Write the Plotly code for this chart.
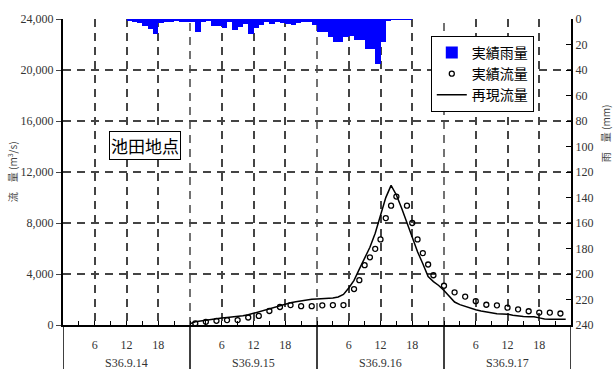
import plotly.graph_objects as go

# ---- data (hours counted from S36.9.14 0:00) ----
dates = ["S36.9.14", "S36.9.15", "S36.9.16", "S36.9.17"]
hour_ticks = ["6", "12", "18"]

rain_start_hours = list(range(12, 66))
rain_mm = [1.5, 2, 3.3, 5.4, 8, 11.8, 3.3, 2, 2, 1.3, 2.5, 2.5, 2.5, 10.3, 2, 1,
           5.4, 5.4, 7.2, 2, 9, 5.9, 4.1, 11.8, 7.2, 4.6, 2.5, 3.7, 2.5, 3.2,
           3.9, 4.4, 3.1, 2, 2, 4.5, 10.3, 10, 14.4, 18, 18, 14.4, 13.6, 16.7,
           16.7, 23.4, 23.4, 35.5, 18.3, 1.5, 0.3, 0.3, 0.3, 0.3]

obs_hours = [25, 27, 29, 31, 33, 35, 37, 39, 41, 43, 45, 47, 49, 51, 53,
             55, 56, 57, 58, 59, 60, 61, 62, 63, 65, 66, 67, 68, 69, 70,
             72, 74, 76, 78, 80, 82, 84, 86, 88, 90, 92, 94]
obs_flow = [130, 250, 330, 385, 385, 590, 715, 1100, 1410, 1560, 1480, 1480,
            1540, 1560, 1560, 2820, 3515, 4690, 5310, 5975, 6715, 8385, 9360,
            10075, 9360, 8000, 6715, 5640, 4745, 3900, 3080, 2560, 2230, 1870,
            1590, 1540, 1360, 1230, 1080, 975, 975, 900]

sim_hours = list(range(24, 96))
sim_flow = [100, 255, 320, 390, 440, 495, 540, 580, 620, 670, 720, 800, 920,
            1050, 1180, 1310, 1440, 1560, 1660, 1740, 1830, 1910, 1980, 2010,
            2040, 2055, 2080, 2110, 2200, 2400, 2900, 3500, 4380, 5180, 6100,
            7200, 8650, 9990, 10950, 10200, 9150, 8000, 6850, 5750, 4800, 3800,
            3400, 3100, 2700, 2250, 1800, 1600, 1450, 1320, 1200, 1100, 1020,
            950, 890, 870, 850, 760, 690, 670, 655, 640, 560, 470, 460, 460,
            460, 460]

SERIF = "Liberation Serif, DejaVu Serif, serif"
CJK = "Noto Sans CJK JP, sans-serif"
GRID = "#444444"
DASH = "8px,6px"

fig = go.Figure()
fig.add_trace(go.Bar(
    x=rain_start_hours, y=rain_mm, width=1, offset=0, yaxis="y2",
    marker=dict(color="#0000FF", line=dict(width=0)), name="実績雨量"))
fig.add_trace(go.Scatter(
    x=obs_hours, y=obs_flow, mode="markers", name="実績流量",
    marker=dict(symbol="circle-open", size=5, color="black",
                line=dict(width=1.3, color="black"))))
fig.add_trace(go.Scatter(
    x=sim_hours, y=sim_flow, mode="lines", name="再現流量",
    line=dict(color="black", width=1.5)))

n_days = len(dates)
label_hours = [24 * d + int(t) for d in range(n_days) for t in hour_ticks]
label_text = [t for d in range(n_days) for t in hour_ticks]

fig.update_layout(
    width=613, height=369,
    margin=dict(l=63, r=42, t=14, b=44),
    paper_bgcolor="white", plot_bgcolor="white",
    showlegend=True,
    legend=dict(x=0.724, y=0.945, xanchor="left", yanchor="top",
                bordercolor="black", borderwidth=1, bgcolor="white",
                font=dict(family=CJK, size=14, color="black"),
                traceorder="normal", tracegroupgap=0),
    bargap=0,
    xaxis=dict(range=[0, 24 * n_days], tickvals=label_hours, ticktext=label_text,
               ticks="inside", ticklen=4, tickcolor="black",
               tickfont=dict(family=SERIF, size=12, color="#333"),
               ticklabelstandoff=8,
               showgrid=True, gridcolor=GRID, gridwidth=1.5, griddash=DASH,
               showline=True, linecolor="black", linewidth=2,
               minor=dict(dtick=3, tick0=0, ticks="inside", ticklen=4,
                          tickcolor="black", showgrid=False),
               zeroline=False),
    yaxis=dict(range=[0, 24000], dtick=4000, tickformat=",",
               ticks="outside", ticklen=5, tickcolor=GRID,
               tickfont=dict(family=SERIF, size=12, color="#333"),
               showgrid=True, gridcolor=GRID, gridwidth=1.5, griddash=DASH,
               showline=True, linecolor="black", linewidth=2, zeroline=False),
    yaxis2=dict(range=[240, 0], dtick=20, overlaying="y", side="right",
                ticks="inside", ticklen=5, tickcolor="black",
                tickfont=dict(family=SERIF, size=12, color="#333"),
                showgrid=False, showline=True, linecolor="black", linewidth=2,
                zeroline=False),
)

shapes = []
# dashed grid at day boundaries (no label there)
for d in range(1, n_days):
    shapes.append(dict(type="line", xref="x", yref="paper", x0=24 * d, x1=24 * d,
                       y0=0, y1=1, layer="below",
                       line=dict(color=GRID, width=1.5, dash=DASH)))
# solid separators below the time axis
for d in range(n_days + 1):
    shapes.append(dict(type="line", xref="x", yref="paper", x0=24 * d, x1=24 * d,
                       y0=0, y1=-0.2, line=dict(color="black", width=1.5)))
fig.update_layout(shapes=shapes)

ann = []
for i, d in enumerate(dates):
    ann.append(dict(x=12 + 24 * i, y=-0.125, xref="x", yref="paper",
                    text=d, showarrow=False, xanchor="center", yanchor="middle",
                    font=dict(family=SERIF, size=12, color="#333")))
ann.append(dict(x=-0.1, y=0.50, xref="paper", yref="paper",
                text="流　量 (m<sup>3</sup>/s)", textangle=-90, showarrow=False,
                xanchor="center", yanchor="middle",
                font=dict(family=CJK, size=10, color="#444")))
ann.append(dict(x=1.067, y=0.627, xref="paper", yref="paper",
                text="雨　量 (mm)", textangle=-90, showarrow=False,
                xanchor="center", yanchor="middle",
                font=dict(family=CJK, size=10, color="#444")))
ann.append(dict(x=0.161, y=0.585, xref="paper", yref="paper",
                text="池田地点", showarrow=False,
                xanchor="center", yanchor="middle",
                font=dict(family=CJK, size=17, color="black"),
                bordercolor="black", borderwidth=1, borderpad=1,
                bgcolor="white"))
fig.update_layout(annotations=ann)

fig.write_html("out.html", config={"displayModeBar": False},
               post_script="document.body.style.margin='0';")
